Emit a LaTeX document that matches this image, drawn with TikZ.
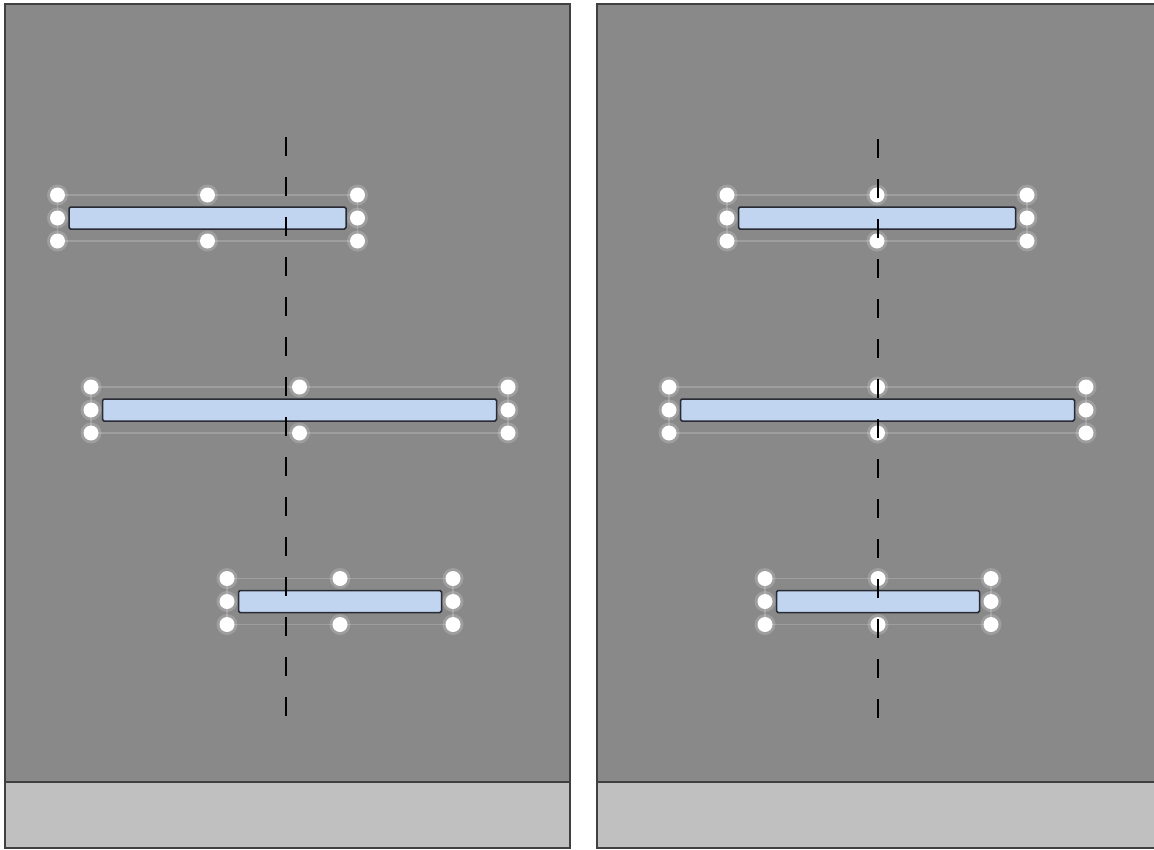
\documentclass[tikz,border=0pt]{standalone}
\usepackage{tikz}

\definecolor{panelgray}{RGB}{137,137,137}
\definecolor{stripgray}{RGB}{192,192,192}
\definecolor{barblue}{RGB}{193,212,240}
\definecolor{edgedark}{RGB}{40,42,52}

\tikzset{
  panel/.style={draw=black!75, line width=2pt, fill=panelgray},
  strip/.style={draw=black!75, line width=2pt, fill=stripgray},
  bar/.style={draw=edgedark, line width=1.5pt, fill=barblue, rounded corners=1.5pt, inner sep=0pt, minimum height=22pt},
  selline/.style={draw=white!18!panelgray, line width=1.5pt},
  halo/.style={circle, fill=white, opacity=0.18, inner sep=0pt, minimum size=21pt},
  handle/.style={circle, fill=white, inner sep=0pt, minimum size=15pt},
  midline/.style={line width=1.3pt, dash pattern=on 19pt off 21pt},
}

\begin{document}
\begin{tikzpicture}[x=1pt, y=-1pt]
    \useasboundingbox[fill=white] (0,0) rectangle (1154,849);

    % Left panel
    \draw[panel] (5,4) rectangle (570,848);
    \draw[strip] (5,782) rectangle (570,848);

    % Right panel
    \draw[panel] (597,4) rectangle (1170,848);
    \draw[strip] (597,782) rectangle (1170,848);

    % Bars with their selection handles
    \foreach \n/\cx/\cy/\w in {A1/207.5/218/150, A2/299.5/410/208.5, A3/340/601.5/113,
                               B1/877/218/150, B2/877.5/410/208.5, B3/878/601.5/113}{
        \pgfmathsetmacro\bw{2*\w-23}
        \draw[selline] (\cx-\w,\cy-23) rectangle (\cx+\w,\cy+23);
        \node[bar, minimum width=\bw pt] (bar\n) at (\cx,\cy) {};
        \foreach \dx/\dy [count=\k] in {-1/-1,0/-1,1/-1,-1/0,1/0,-1/1,0/1,1/1}{
            \node[halo] (glow\n\k) at (\cx+\dx*\w,\cy+\dy*23) {};
            \node[handle] (hdl\n\k) at (\cx+\dx*\w,\cy+\dy*23) {};
        }
    }

    % Centre lines
    \coordinate (axisLtop) at (286,137);
    \coordinate (axisLbot) at (286,717);
    \coordinate (axisRtop) at (878,139);
    \coordinate (axisRbot) at (878,719);
    \draw[midline] (axisLtop) -- (axisLbot);
    \draw[midline] (axisRtop) -- (axisRbot);
\end{tikzpicture}
\end{document}
